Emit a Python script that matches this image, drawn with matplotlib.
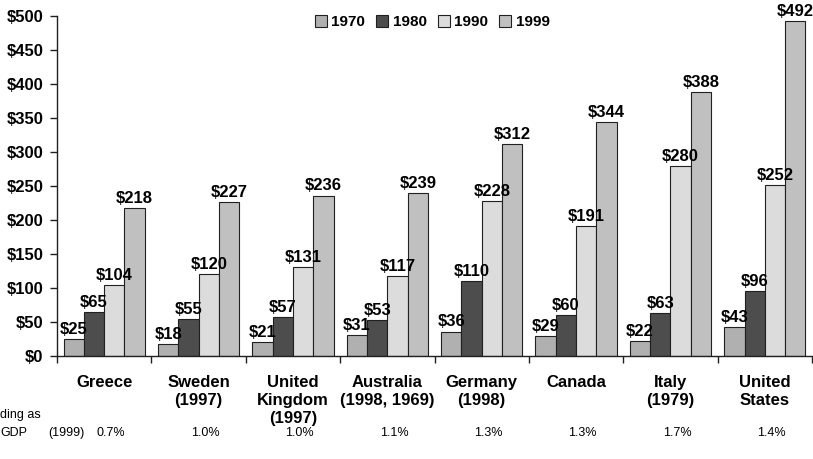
import matplotlib
matplotlib.use("Agg")
import matplotlib.pyplot as plt
import numpy as np

plt.rcParams["font.family"] = ["Liberation Sans", "DejaVu Sans"]

# data
countries = ["Greece", "Sweden\n(1997)", "United\nKingdom\n(1997)", "Australia\n(1998, 1969)",
             "Germany\n(1998)", "Canada", "Italy\n(1979)", "United\nStates"]
years = ["1970", "1980", "1990", "1999"]
v1970 = [25, 18, 21, 31, 36, 29, 22, 43]
v1980 = [65, 55, 57, 53, 110, 60, 63, 96]
v1990 = [104, 120, 131, 117, 228, 191, 280, 252]
v1999 = [218, 227, 236, 239, 312, 344, 388, 492]
gdp_share = ["0.7%", "1.0%", "1.0%", "1.1%", "1.3%", "1.3%", "1.7%", "1.4%"]
colors = ["#b0b0b0", "#4d4d4d", "#dcdcdc", "#c0c0c0"]

fig = plt.figure(figsize=(8.13, 4.59), dpi=100)
ax = fig.add_axes([57 / 813, 103 / 459, 755 / 813, 340 / 459])

x = np.arange(len(countries))
w = 0.215
series = [v1970, v1980, v1990, v1999]
for i, vals in enumerate(series):
    pos = x - 2 * w + (i + 0.5) * w
    bars = ax.bar(pos, vals, width=w, color=colors[i], edgecolor="#202020",
                  linewidth=0.8, label=years[i], zorder=2)
    for b, v in zip(bars, vals):
        ax.text(b.get_x() + b.get_width() / 2, v + 3, f"${v}", ha="center", va="bottom",
                fontsize=12, fontweight="bold")

ax.set_xlim(-0.5, len(countries) - 0.5)
ax.set_ylim(0, 500)
ax.set_yticks(range(0, 501, 50))
ax.set_yticklabels([f"${t}" for t in range(0, 501, 50)], fontsize=12, fontweight="bold")
ax.set_xticks(np.arange(len(countries) + 1) - 0.5)
ax.set_xticklabels([])
ax.tick_params(axis="both", direction="out", length=5, width=1, color="#202020")
ax.tick_params(axis="y", pad=5)
for s in ["top", "right"]:
    ax.spines[s].set_visible(False)
for s in ["left", "bottom"]:
    ax.spines[s].set_color("#202020")
    ax.spines[s].set_linewidth(1)

# category labels under each group
trans = ax.get_xaxis_transform()
for xi, name in zip(x, countries):
    ax.text(xi, -0.055, name, transform=trans, ha="center", va="top",
            fontsize=12, fontweight="bold", linespacing=1.25)
for xi, p in zip(x, gdp_share):
    ax.text(xi + 0.07, -0.225, p, transform=trans, ha="center", va="center", fontsize=9)

# row title, only partly visible in the reference
fig.text(0, 1 - 415 / 459, "ding as", ha="left", va="center", fontsize=9)
fig.text(0, 1 - 433 / 459, "GDP", ha="left", va="center", fontsize=9)
fig.text(48 / 813, 1 - 433 / 459, "(1999)", ha="left", va="center", fontsize=9)

ax.legend(loc="upper center", bbox_to_anchor=(0.497, 1.02), ncol=4, frameon=False,
          handlelength=0.8, handleheight=0.8, handletextpad=0.3, columnspacing=0.7,
          prop={"size": 11, "weight": "bold"}, borderaxespad=0)

fig.savefig("out.png", dpi=100)
